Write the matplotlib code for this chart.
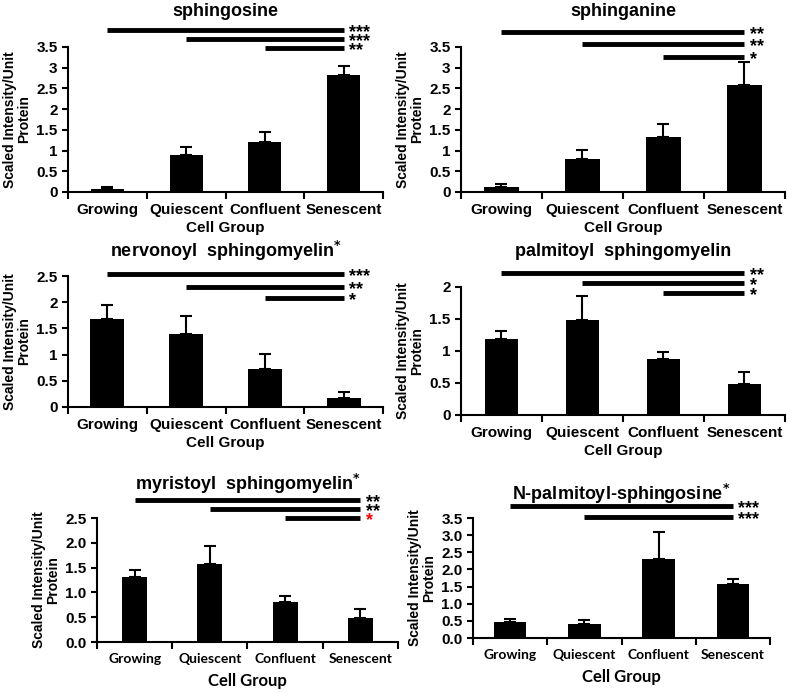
import numpy as np
import matplotlib.pyplot as plt
from matplotlib.ticker import FormatStrFormatter

plt.rcParams['font.family'] = ['Liberation Sans', 'DejaVu Sans']
plt.rcParams['font.weight'] = 'bold'
plt.rcParams['axes.titleweight'] = 'bold'
plt.rcParams['axes.labelweight'] = 'bold'
plt.rcParams['mathtext.default'] = 'bf'

groups = ['Growing', 'Quiescent', 'Confluent', 'Senescent']

titles = ['sphingosine', 'sphinganine',
          r'nervonoyl  sphingomyelin$^{*}$', 'palmitoyl  sphingomyelin',
          r'myristoyl  sphingomyelin$^{*}$', r'N-palmitoyl-sphingosine$^{*}$']

sphingosine = [0.07, 0.90, 1.20, 2.82]
sphingosine_err = [0.05, 0.18, 0.26, 0.22]
sphinganine = [0.12, 0.80, 1.33, 2.58]
sphinganine_err = [0.07, 0.22, 0.31, 0.56]
nervonoyl_sm = [1.68, 1.40, 0.72, 0.18]
nervonoyl_sm_err = [0.26, 0.34, 0.29, 0.10]
palmitoyl_sm = [1.18, 1.48, 0.88, 0.48]
palmitoyl_sm_err = [0.14, 0.38, 0.10, 0.19]
myristoyl_sm = [1.32, 1.57, 0.80, 0.48]
myristoyl_sm_err = [0.13, 0.36, 0.12, 0.18]
palmitoyl_sphingosine = [0.48, 0.40, 2.30, 1.57]
palmitoyl_sphingosine_err = [0.08, 0.13, 0.80, 0.16]

values = [sphingosine, sphinganine, nervonoyl_sm, palmitoyl_sm, myristoyl_sm, palmitoyl_sphingosine]
errors = [sphingosine_err, sphinganine_err, nervonoyl_sm_err, palmitoyl_sm_err,
          myristoyl_sm_err, palmitoyl_sphingosine_err]
ymax = [3.5, 3.5, 2.5, 2.0, 2.5, 3.5]

# significance bars: (start group, level, label), all end at Senescent
sig = [
    [(0, 3.91, '***'), (1, 3.69, '***'), (2, 3.48, '**')],
    [(0, 3.86, '**'), (1, 3.57, '**'), (2, 3.26, '*')],
    [(0, 2.54, '***'), (1, 2.29, '**'), (2, 2.08, '*')],
    [(0, 2.22, '**'), (1, 2.06, '*'), (2, 1.91, '*')],
    [(0, 2.86, '**'), (1, 2.68, '**'), (2, 2.50, '*')],
    [(0, 3.85, '***'), (1, 3.53, '***')],
]
sig_colors = [['k'] * 3, ['k'] * 3, ['k'] * 3, ['k'] * 3, ['k', 'k', 'red'], ['k'] * 2]

# axes boxes in pixels: left, right, top, bottom
boxes = [(68, 383, 47, 192), (461, 785, 47, 192),
         (68, 383, 276, 407), (461, 785, 287, 415),
         (97, 398, 518, 642), (473, 770, 518, 638)]
bar_w = [0.42, 0.42, 0.43, 0.41, 0.33, 0.44]
title_pad = [22, 22, 14, 22, 20, 13]

W, H = 787, 693
fig = plt.figure(figsize=(W / 100, H / 100), dpi=100)

for i in range(6):
    l, r, t, b = boxes[i]
    ax = fig.add_axes([l / W, 1 - b / H, (r - l) / W, (b - t) / H])
    x = np.arange(4)
    ax.bar(x, values[i], width=bar_w[i], color='black', zorder=3)
    ax.errorbar(x, values[i], yerr=[np.zeros(4), errors[i]], fmt='none',
                ecolor='black', elinewidth=1.5, capsize=4, capthick=1.5, zorder=2)
    ax.set_xlim(-0.5, 3.5)
    ax.set_ylim(0, ymax[i])
    ax.set_yticks(np.arange(0, ymax[i] + 0.01, 0.5))
    ax.set_xticks(np.arange(-0.5, 3.6, 1.0))
    ax.set_xticks(x, minor=True)
    ax.set_xticklabels([])
    ax.set_xticklabels(groups, minor=True)
    ax.tick_params(axis='x', which='minor', length=0, pad=8)
    ax.tick_params(axis='x', which='major', length=5, width=1.5, direction='out')
    ax.tick_params(axis='y', length=4, width=1.5, direction='out', labelsize=11)
    for s in ['top', 'right']:
        ax.spines[s].set_visible(False)
    for s in ['left', 'bottom']:
        ax.spines[s].set_linewidth(1.5)

    if i < 4:
        ax.yaxis.set_major_formatter(FormatStrFormatter('%g'))
        for lab in ax.get_xticklabels(minor=True):
            lab.set_fontsize(11)
        ax.set_xlabel('Cell Group', fontsize=11, labelpad=3)
    else:
        ax.yaxis.set_major_formatter(FormatStrFormatter('%.1f'))
        for lab in ax.get_xticklabels(minor=True):
            lab.set_fontsize(10)
            lab.set_family('Lato')
        ax.set_xlabel('Cell Group', fontsize=12, family='Lato', labelpad=6)

    ax.set_ylabel('Scaled Intensity/Unit\nProtein', fontsize=10, linespacing=0.95)
    ax.set_title(titles[i], fontsize=13, pad=title_pad[i])

    for (start, lev, lab), c in zip(sig[i], sig_colors[i]):
        ax.plot([start, 3], [lev, lev], color='black', lw=3.5,
                solid_capstyle='butt', clip_on=False, zorder=4)
        ax.annotate(lab, (3, lev), xytext=(4, -2), textcoords='offset points',
                    ha='left', va='center', fontsize=13, color=c,
                    annotation_clip=False)

fig.savefig('out.png', dpi=100)
